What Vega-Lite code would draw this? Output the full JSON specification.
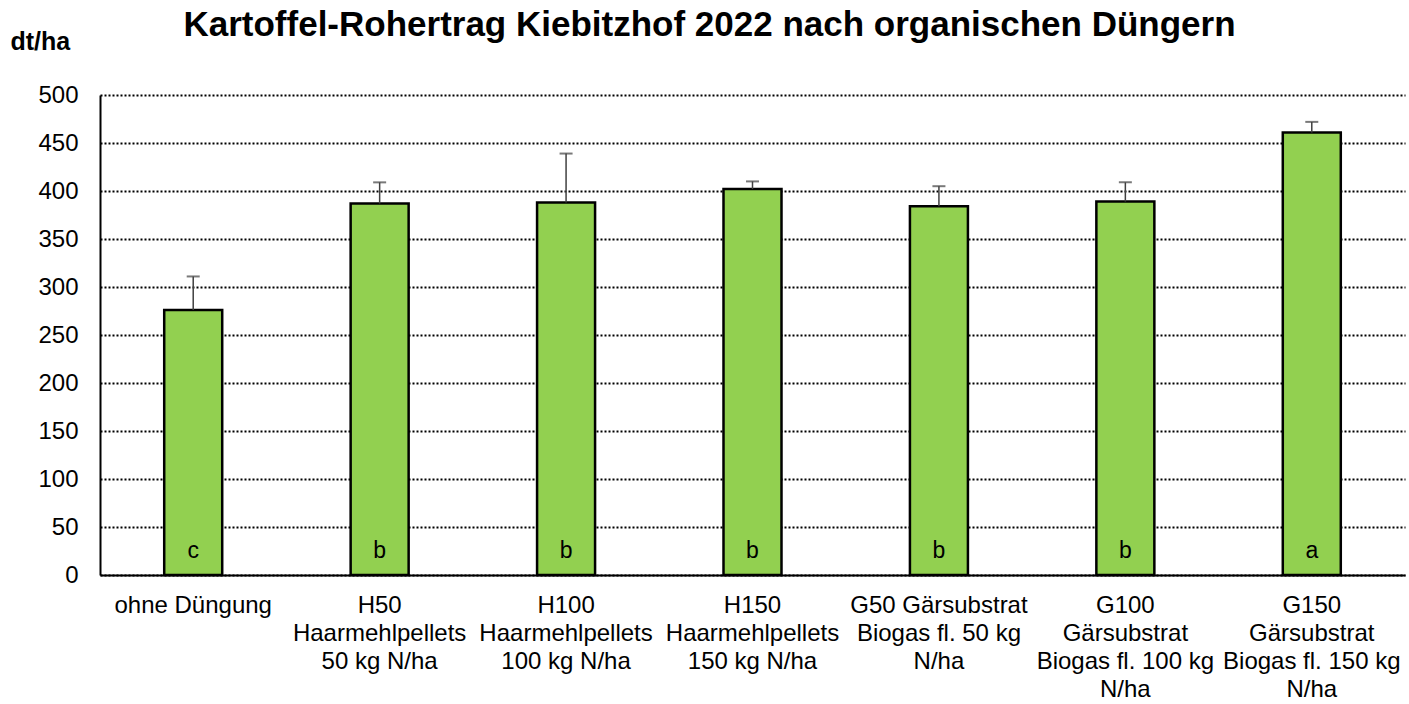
{
  "$schema": "https://vega.github.io/schema/vega-lite/v6.json",
  "autosize": {"type": "none"},
  "width": 1305,
  "height": 480,
  "padding": {"left": 100, "top": 95, "right": 4, "bottom": 129},
  "background": "white",
  "config": {
    "font": "Liberation Sans",
    "view": {"stroke": null}
  },
  "title": {
    "text": "Kartoffel-Rohertrag Kiebitzhof 2022 nach organischen Düngern",
    "fontSize": 35,
    "fontWeight": "bold",
    "font": "Liberation Sans",
    "color": "black",
    "anchor": "middle",
    "baseline": "alphabetic",
    "dx": -43,
    "offset": -42
  },
  "data": {
    "values": [
      {"Variante": "ohne Düngung", "Ertrag": 276, "Fehler": 311, "Gruppe": "c"},
      {"Variante": "H50|Haarmehlpellets|50 kg N/ha", "Ertrag": 387, "Fehler": 409, "Gruppe": "b"},
      {"Variante": "H100|Haarmehlpellets|100 kg N/ha", "Ertrag": 388, "Fehler": 439, "Gruppe": "b"},
      {"Variante": "H150|Haarmehlpellets|150 kg N/ha", "Ertrag": 402, "Fehler": 410, "Gruppe": "b"},
      {"Variante": "G50 Gärsubstrat|Biogas fl. 50 kg|N/ha", "Ertrag": 384, "Fehler": 405, "Gruppe": "b"},
      {"Variante": "G100|Gärsubstrat|Biogas fl. 100 kg|N/ha", "Ertrag": 389, "Fehler": 409, "Gruppe": "b"},
      {"Variante": "G150|Gärsubstrat|Biogas fl. 150 kg|N/ha", "Ertrag": 461, "Fehler": 472, "Gruppe": "a"}
    ]
  },
  "encoding": {
    "x": {
      "field": "Variante",
      "type": "nominal",
      "sort": null,
      "scale": {"paddingInner": 0, "paddingOuter": 0},
      "axis": {
        "title": null,
        "labelAngle": 0,
        "labelExpr": "split(datum.value, '|')",
        "labelFontSize": 24,
        "labelColor": "black",
        "labelLineHeight": 28,
        "labelPadding": 18,
        "labelBaseline": "top",
        "ticks": false,
        "domainColor": "black",
        "domainWidth": 2,
        "grid": false,
        "labelLimit": 300
      }
    }
  },
  "layer": [
    {
      "mark": {"type": "bar", "fill": "#92D050", "stroke": "black", "strokeWidth": 2.5, "width": 58},
      "encoding": {
        "y": {
          "field": "Ertrag",
          "type": "quantitative",
          "scale": {"domain": [0, 500]},
          "axis": {
            "title": "dt/ha",
            "titleAngle": 0,
            "titleX": -90,
            "titleY": -54,
            "titleAlign": "left",
            "titleBaseline": "middle",
            "titleFontSize": 25,
            "titleFontWeight": "bold",
            "titleColor": "black",
            "values": [0, 50, 100, 150, 200, 250, 300, 350, 400, 450, 500],
            "labelFontSize": 24,
            "labelColor": "black",
            "labelPadding": 22,
            "ticks": false,
            "domainColor": "black",
            "domainWidth": 2,
            "gridColor": "black",
            "gridDash": [2, 2],
            "gridWidth": 2
          }
        }
      }
    },
    {
      "mark": {"type": "rule", "color": "#404040", "strokeWidth": 1.5},
      "encoding": {
        "y": {"field": "Ertrag", "type": "quantitative"},
        "y2": {"field": "Fehler"}
      }
    },
    {
      "mark": {"type": "tick", "color": "#404040", "thickness": 2, "size": 13},
      "encoding": {
        "y": {"field": "Fehler", "type": "quantitative"}
      }
    },
    {
      "mark": {"type": "text", "fontSize": 23, "color": "black", "baseline": "middle"},
      "encoding": {
        "y": {"datum": 25, "type": "quantitative"},
        "text": {"field": "Gruppe"}
      }
    }
  ]
}
